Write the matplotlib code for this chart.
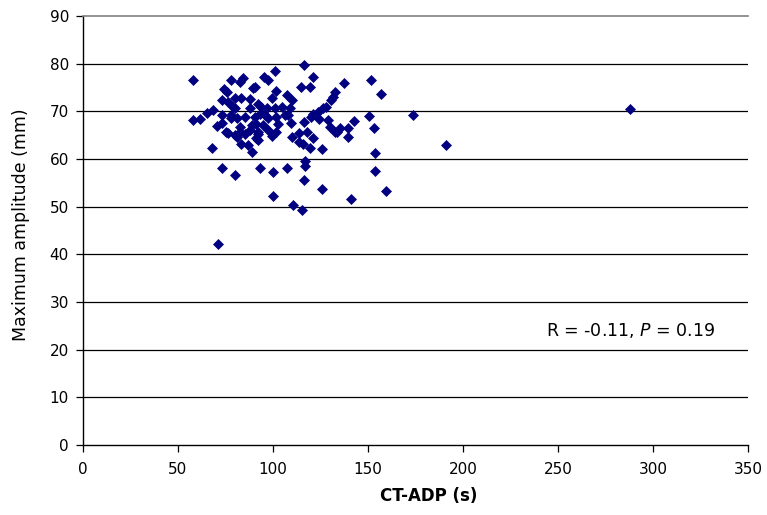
import numpy as np
import matplotlib
matplotlib.use("Agg")
import matplotlib.pyplot as plt

# CT-ADP (s) vs maximum amplitude (mm)
ct_adp = [
    58.0, 58.0, 61.6, 65.1, 68.6, 67.9, 70.4, 70.9, 73.0, 73.3, 73.0, 73.3,
    74.4, 76.1, 76.5, 78.2, 75.6, 76.5, 78.2, 78.2, 79.1, 80.0, 80.0, 80.0,
    80.0, 80.9, 80.9,
    82.6, 84.4, 83.5, 82.6, 82.6, 83.5, 85.3, 85.3, 87.9, 87.9, 87.9, 87.0,
    88.8, 88.8, 89.6, 90.5, 90.5, 91.4, 91.4, 92.0, 92.3, 92.3, 92.3, 93.2,
    93.2, 94.0, 94.9, 95.4, 95.8, 96.7, 97.5, 97.5, 97.5, 99.3, 99.3,
    100.2, 100.2, 101.0, 101.0, 101.9, 101.9, 101.9, 102.8, 104.6, 106.3,
    107.2, 107.2, 107.9, 109.0, 109.5, 110.0, 110.0, 110.4, 114.0, 114.0,
    114.7, 115.3, 116.0, 116.3, 116.3, 116.3, 116.8, 116.8, 118.0, 119.5,
    119.6, 120.0,
    121.2, 121.2, 121.0, 123.7, 124.2, 125.8, 125.8, 126.5, 128.0, 129.0,
    130.0, 130.5, 131.6, 132.6, 132.6, 134.0, 135.3, 137.2, 139.3, 139.3,
    141.0, 142.8, 150.7, 151.6, 153.2, 153.7, 153.7, 156.7, 159.3, 173.9,
    191.0, 287.9,
]
max_amp = [
    76.5, 68.1, 68.3, 69.7, 70.2, 62.4, 66.9, 42.1, 67.6, 69.2, 72.3, 58.0,
    74.6, 74.1, 72.0, 76.5, 65.7, 65.4, 69.2, 68.5, 70.9, 72.7, 56.6, 65.0,
    70.6, 68.5, 64.6,
    76.2, 76.9, 72.8, 66.7, 65.7, 63.2, 68.8, 65.3, 72.5, 70.6, 66.0, 62.9,
    67.1, 61.5, 74.8, 75.2, 68.8, 67.4, 64.3, 65.3, 71.6, 65.7, 63.9, 69.5,
    58.0, 70.9, 67.1, 77.2, 69.2, 70.6, 76.5, 68.5, 66.0, 72.7, 64.8,
    57.3, 52.2, 78.4, 70.7, 74.2, 68.8, 65.7, 67.4, 70.9, 69.2,
    73.5, 58.0, 69.2, 70.6, 67.5, 72.3, 64.6, 50.3, 65.5, 63.6,
    75.2, 49.3, 63.1, 79.7, 67.8, 55.6, 58.5, 59.6, 65.7, 62.4,
    75.2, 68.8,
    77.2, 69.5, 64.3, 69.9, 68.3, 62.0, 53.6, 70.6, 70.8, 68.1,
    66.7, 72.3, 73.0, 74.1, 65.6, 65.7, 66.4, 76.0, 66.6, 64.7,
    51.7, 68.0, 69.0, 76.5, 66.6, 61.3, 57.4, 73.6, 53.3, 69.3,
    62.9, 70.4,
]
x_ticks = [0, 50, 100, 150, 200, 250, 300, 350]
y_ticks = [0, 10, 20, 30, 40, 50, 60, 70, 80, 90]
stat_text = r"R = -0.11, $\mathit{P}$ = 0.19"

plt.rcParams["font.family"] = ["DejaVu Sans"]
plt.rcParams["mathtext.fontset"] = "custom"
plt.rcParams["mathtext.rm"] = "DejaVu Sans"
plt.rcParams["mathtext.it"] = "DejaVu Sans:italic"

fig = plt.figure(figsize=(7.67, 5.15), dpi=100)
ax = fig.add_axes([0.108, 0.136, 0.867, 0.833])

for yv in y_ticks[1:-1]:
    ax.axhline(yv, color="black", lw=0.9, zorder=1)

ax.plot(ct_adp, max_amp, "D", color="#000080", ms=4.9, mec="#000080",
        mew=0.5, zorder=3, clip_on=False)

ax.set_xlim(0, 350)
ax.set_ylim(0, 90)
ax.set_xticks(x_ticks)
ax.set_yticks(y_ticks)
ax.tick_params(direction="out", length=5, width=0.9, labelsize=11,
               color="black")
ax.tick_params(axis="x", pad=7)
ax.tick_params(axis="y", pad=5)

ax.spines["right"].set_visible(False)
ax.spines["top"].set_color("#808080")
ax.spines["top"].set_linewidth(1.2)
ax.spines["left"].set_linewidth(1.0)
ax.spines["bottom"].set_linewidth(1.0)

ax.set_xlabel("CT-ADP (s)", fontsize=12, fontweight="bold")
ax.set_ylabel("Maximum amplitude (mm)", fontsize=12.5)
ax.xaxis.set_label_coords(0.52, -0.098)
ax.yaxis.set_label_coords(-0.079, 0.513)

ax.text(333, 24, stat_text, fontsize=12.5, ha="right", va="center")

fig.savefig("out.png", dpi=100)
